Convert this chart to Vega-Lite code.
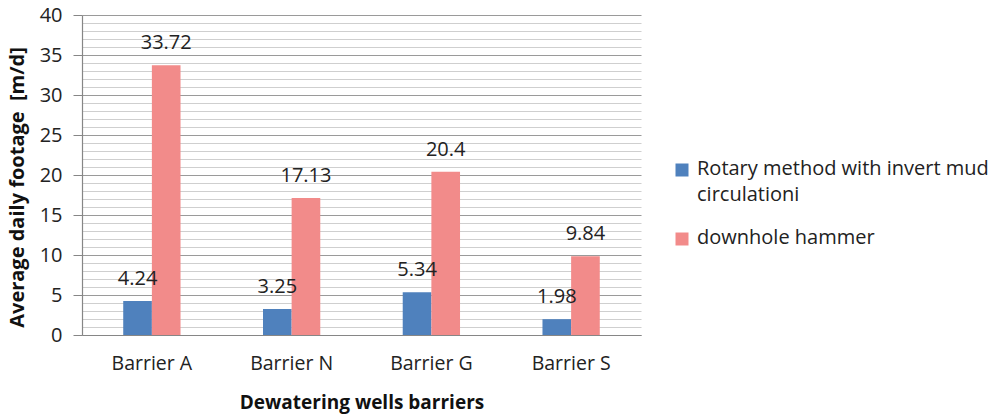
{
  "$schema": "https://vega.github.io/schema/vega-lite/v6.json",
  "autosize": "none",
  "width": 559,
  "height": 320,
  "padding": {"left": 82, "top": 15, "right": 349, "bottom": 79},
  "background": "white",
  "config": {
    "view": {"stroke": null},
    "font": "Open Sans",
    "axis": {"labelFont": "Open Sans", "titleFont": "Open Sans", "labelColor": "#222", "titleColor": "#111"},
    "legend": {"labelFont": "Open Sans"}
  },
  "data": {
    "values": [
      {"barrier": "Barrier A", "method": "Rotary method with invert mud circulationi", "value": 4.24},
      {"barrier": "Barrier A", "method": "downhole hammer", "value": 33.72},
      {"barrier": "Barrier N", "method": "Rotary method with invert mud circulationi", "value": 3.25},
      {"barrier": "Barrier N", "method": "downhole hammer", "value": 17.13},
      {"barrier": "Barrier G", "method": "Rotary method with invert mud circulationi", "value": 5.34},
      {"barrier": "Barrier G", "method": "downhole hammer", "value": 20.4},
      {"barrier": "Barrier S", "method": "Rotary method with invert mud circulationi", "value": 1.98},
      {"barrier": "Barrier S", "method": "downhole hammer", "value": 9.84}
    ]
  },
  "encoding": {
    "x": {
      "field": "barrier",
      "type": "nominal",
      "sort": ["Barrier A", "Barrier N", "Barrier G", "Barrier S"],
      "scale": {"paddingInner": 0.59, "paddingOuter": 0.295},
      "axis": {
        "title": "Dewatering wells barriers",
        "titleFontSize": 19,
        "titleFontWeight": "bold",
        "titleY": 67,
        "titleBaseline": "middle",
        "labelAngle": 0,
        "labelFontSize": 19.5,
        "labelPadding": 19,
        "ticks": false,
        "domainColor": "#868686",
        "domainWidth": 1.2
      }
    },
    "xOffset": {
      "field": "method",
      "type": "nominal",
      "sort": ["Rotary method with invert mud circulationi", "downhole hammer"],
      "scale": {"paddingInner": 0, "paddingOuter": 0}
    },
    "y": {
      "field": "value",
      "type": "quantitative",
      "scale": {"domain": [0, 40], "nice": false},
      "axis": {
        "title": "Average daily footage\u00a0\u00a0[m/d]",
        "titleFontSize": 20,
        "titleFontWeight": "bold",
        "titleX": -65,
        "titleY": 172,
        "titleBaseline": "middle",
        "titleAlign": "center",
        "values": [0,1,2,3,4,5,6,7,8,9,10,11,12,13,14,15,16,17,18,19,20,21,22,23,24,25,26,27,28,29,30,31,32,33,34,35,36,37,38,39,40],
        "labelExpr": "datum.value % 5 === 0 ? datum.label : ''",
        "labelFontSize": 20,
        "labelPadding": 11,
        "tickSize": 9,
        "tickColor": {"condition": {"test": "datum.value % 5 === 0", "value": "#868686"}, "value": "transparent"},
        "gridColor": {"condition": {"test": "datum.value % 5 === 0", "value": "#9a9a9a"}, "value": "#cfcfcf"},
        "gridWidth": 1.2,
        "domainColor": "#868686",
        "domainWidth": 1.2
      }
    }
  },
  "layer": [
    {
      "mark": {"type": "bar"},
      "encoding": {
        "color": {
          "field": "method",
          "type": "nominal",
          "sort": ["Rotary method with invert mud circulationi", "downhole hammer"],
          "scale": {
            "domain": ["Rotary method with invert mud circulationi", "downhole hammer"],
            "range": ["#4F81BD", "#F28B8A"]
          },
          "legend": {
            "title": null,
            "orient": "none",
            "legendX": 590,
            "legendY": 145,
            "padding": 0,
            "symbolType": "square",
            "symbolSize": 169,
            "symbolStrokeWidth": 0,
            "labelFontSize": 20,
            "labelColor": "#222",
            "labelOffset": 5,
            "labelLimit": 400,
            "rowPadding": 23,
            "labelBaseline": "top",
            "labelExpr": "datum.label == 'Rotary method with invert mud circulationi' ? ['Rotary method with invert mud', 'circulationi'] : datum.label",
            "encode": {
              "labels": {"update": {"dy": {"value": -11}, "lineHeight": {"value": 26}}}
            }
          }
        }
      }
    },
    {
      "mark": {"type": "text", "baseline": "middle", "dy": -22, "fontSize": 20, "color": "#222", "font": "Open Sans"},
      "encoding": {
        "text": {"field": "value", "type": "quantitative", "format": ".4~g"}
      }
    }
  ]
}
